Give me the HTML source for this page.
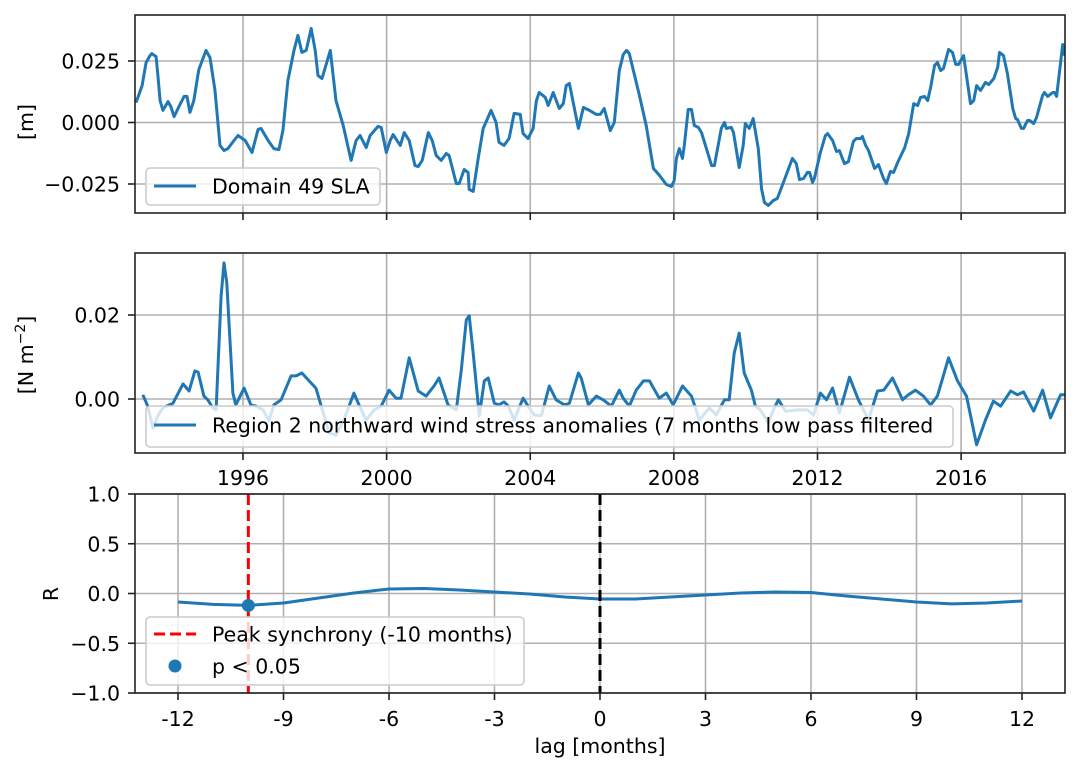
<!DOCTYPE html>
<html><head><meta charset="utf-8"><style>
html,body{margin:0;padding:0;background:#fff}
svg{display:block;font-family:"DejaVu Sans","Liberation Sans",sans-serif}
</style></head><body>
<svg id="chart" width="1080" height="772" viewBox="0 0 1080 772" xmlns="http://www.w3.org/2000/svg"></svg>
<script>
// ---- Panel 1: Domain 49 SLA (values in 1e-3 m)
const slaDates=[1993.02,1993.19,1993.30,1993.41,1993.46,1993.58,1993.63,1993.69,1993.77,1993.91,1993.99,1994.08,1994.19,1994.36,1994.44,1994.52,1994.63,1994.77,1994.97,1995.08,1995.22,1995.36,1995.47,1995.58,1995.75,1995.86,1996.06,1996.25,1996.42,1996.50,1996.70,1996.86,1997.00,1997.11,1997.25,1997.42,1997.53,1997.64,1997.76,1997.90,1998.01,1998.09,1998.20,1998.43,1998.59,1998.79,1999.01,1999.15,1999.26,1999.43,1999.54,1999.76,1999.85,1999.99,2000.10,2000.18,2000.38,2000.49,2000.63,2000.79,2000.88,2000.99,2001.16,2001.27,2001.38,2001.52,2001.66,2001.74,2001.94,2002.02,2002.16,2002.27,2002.30,2002.41,2002.55,2002.69,2002.91,2003.05,2003.13,2003.27,2003.41,2003.55,2003.72,2003.80,2003.94,2004.08,2004.17,2004.25,2004.42,2004.50,2004.64,2004.81,2004.92,2005.00,2005.09,2005.34,2005.48,2005.65,2005.84,2005.95,2006.06,2006.23,2006.34,2006.48,2006.59,2006.68,2006.76,2007.04,2007.23,2007.43,2007.60,2007.79,2007.93,2008.01,2008.07,2008.15,2008.24,2008.29,2008.40,2008.49,2008.57,2008.68,2008.77,2009.05,2009.13,2009.32,2009.41,2009.46,2009.60,2009.66,2009.82,2009.93,2009.99,2010.10,2010.21,2010.35,2010.44,2010.52,2010.63,2010.77,2010.88,2011.05,2011.30,2011.41,2011.50,2011.61,2011.72,2011.78,2011.86,2011.91,2012.08,2012.22,2012.28,2012.42,2012.53,2012.61,2012.75,2012.86,2013.00,2013.08,2013.20,2013.25,2013.34,2013.42,2013.59,2013.70,2013.84,2013.92,2014.03,2014.12,2014.23,2014.43,2014.54,2014.68,2014.79,2014.87,2014.98,2015.07,2015.15,2015.26,2015.34,2015.43,2015.51,2015.65,2015.76,2015.85,2015.93,2016.07,2016.26,2016.35,2016.43,2016.54,2016.68,2016.77,2016.91,2017.02,2017.07,2017.18,2017.29,2017.44,2017.52,2017.57,2017.68,2017.74,2017.85,2017.91,2018.02,2018.10,2018.27,2018.32,2018.41,2018.55,2018.60,2018.66,2018.83,2018.88];
const slaValues=[8.1,15.0,24.4,27.2,28.0,26.8,19.1,8.9,4.9,8.5,6.5,2.4,5.7,10.6,10.6,4.1,8.9,21.5,29.3,26.4,13.0,-9.3,-11.4,-10.6,-7.3,-5.3,-7.3,-12.2,-2.8,-2.4,-7.3,-10.6,-11.0,-3.3,17.1,29.3,35.4,28.5,29.3,38.2,29.3,19.1,17.9,29.3,8.9,-1.2,-15.4,-7.3,-5.3,-10.2,-5.3,-1.6,-2.0,-12.2,-7.3,-4.9,-9.3,-4.1,-7.3,-17.5,-17.9,-15.4,-4.1,-7.3,-13.4,-15.4,-12.6,-13.4,-24.8,-24.8,-19.1,-20.3,-27.2,-28.0,-14.6,-2.4,4.9,0,-8.1,-9.3,-6.5,3.7,3.3,-4.5,-6.5,-2.4,8.9,12.2,10.2,6.9,12.2,5.7,7.7,15.0,15.9,-2.4,6.1,4.9,3.3,3.3,5.7,-3.3,0,21.1,27.6,29.3,28.0,11.0,-1.2,-18.7,-21.5,-25.2,-26.0,-23.6,-14.6,-10.6,-14.6,-9.3,5.3,5.3,-1.2,-2.0,-4.1,-17.5,-17.5,-2.4,0,-2.4,-2.0,-4.1,-18.3,-9.3,-0.4,-2.4,1.6,-10.6,-26.8,-32.5,-33.7,-31.7,-30.9,-24.4,-14.6,-16.7,-23.2,-22.8,-20.3,-20.3,-24.4,-22.8,-12.2,-5.3,-4.5,-7.3,-11.8,-11.4,-16.7,-15.9,-7.7,-6.5,-6.5,-5.7,-9.3,-11.4,-18.7,-17.1,-22.8,-24.8,-19.9,-20.3,-16.3,-10.2,-4.5,7.7,6.9,10.2,10.6,8.9,14.2,23.2,24.4,21.1,22.0,29.7,28.5,23.6,23.6,27.2,7.7,8.9,15.0,13.0,16.3,15.4,17.9,22.4,28.5,27.2,19.9,5.7,1.6,1.2,-2.4,-2.4,0.8,0.8,-0.4,2.0,11.0,12.2,10.6,12.2,12.2,10.6,31.7,27.2];
const slaTicks=[-0.025,0,0.025];
const slaTickLabels=["\u22120.025","0.000","0.025"];
// ---- Panel 2: wind stress anomalies (values in 1e-3 N m^-2)
const windDates=[1993.21,1993.35,1993.49,1993.63,1993.77,1994.05,1994.33,1994.50,1994.66,1994.75,1994.91,1995.02,1995.16,1995.25,1995.39,1995.47,1995.55,1995.72,1995.80,1996.03,1996.22,1996.36,1996.56,1996.72,1996.86,1997.06,1997.34,1997.48,1997.64,1997.84,1998.03,1998.17,1998.40,1998.59,1998.81,1999.09,1999.23,1999.43,1999.65,1999.85,2000.07,2000.26,2000.40,2000.63,2000.88,2001.10,2001.32,2001.46,2001.71,2001.85,2001.94,2002.08,2002.22,2002.30,2002.41,2002.58,2002.72,2002.83,2003.00,2003.13,2003.27,2003.39,2003.55,2003.80,2003.94,2004.11,2004.31,2004.53,2004.72,2004.95,2005.09,2005.34,2005.42,2005.62,2005.84,2006.03,2006.26,2006.48,2006.59,2006.76,2006.95,2007.15,2007.32,2007.59,2007.79,2007.98,2008.24,2008.49,2008.71,2008.99,2009.18,2009.41,2009.54,2009.68,2009.82,2009.96,2010.16,2010.27,2010.41,2010.63,2010.77,2010.91,2011.11,2011.44,2011.72,2011.89,2012.08,2012.25,2012.42,2012.61,2012.89,2013.14,2013.42,2013.67,2013.84,2014.09,2014.37,2014.53,2014.73,2014.95,2015.15,2015.34,2015.65,2015.90,2016.15,2016.43,2016.68,2016.90,2017.10,2017.38,2017.57,2017.74,2018.02,2018.27,2018.49,2018.63,2018.77,2018.91];
const windValues=[1.0,-1.7,-6.9,-4.0,-2.1,-1.0,3.6,1.9,6.7,6.4,0.7,-0.2,-2.1,-2.6,24.5,32.4,27.6,1.4,-1.4,2.6,-1.4,-1.7,-2.6,-5.2,-1.4,-0.2,5.5,5.5,6.2,4.3,2.6,-1.4,-8.1,-8.6,-5.0,1.4,-1.4,-5.0,-2.6,-1.7,2.1,0.2,0.2,9.8,1.9,0.7,3.1,5.0,-1.4,-2.1,-2.6,6.9,18.8,19.8,10.9,-4.0,4.3,5.0,-1.0,-1.4,-0.7,-1.7,-5.0,0.2,-1.7,-3.8,-4.0,3.1,-0.2,-1.4,-1.0,6.2,5.0,-1.4,0.7,-0.2,-1.7,2.1,0.2,-1.7,2.1,4.3,4.3,0.2,1.4,-1.4,3.1,0.7,-5.0,-2.1,-3.8,-0.2,-0.2,10.9,15.7,6.2,2.1,-1.7,-2.6,-5.7,-2.6,-0.2,-2.9,-2.6,-2.6,-3.8,1.4,-0.2,2.6,-3.3,5.2,-0.2,-5.0,1.9,2.1,5.0,-0.2,1.0,2.1,0.7,-1.4,0.7,9.8,4.3,0.7,-10.9,-5.0,-0.5,-1.7,1.9,1.0,1.7,-2.9,2.1,-4.5,-1.7,1.0,1.0];
const windTicks=[0,0.02];
const windTickLabels=["0.00","0.02"];
const yearTicks=[1996,2000,2004,2008,2012,2016];
// ---- Panel 3: lag correlation
const lags=[-12,-11,-10,-9,-8,-7,-6,-5,-4,-3,-2,-1,0,1,2,3,4,5,6,7,8,9,10,11,12];
const rValues=[-0.085,-0.11,-0.12,-0.095,-0.045,0.005,0.045,0.05,0.035,0.015,-0.005,-0.035,-0.055,-0.055,-0.035,-0.015,0.005,0.015,0.01,-0.025,-0.055,-0.085,-0.105,-0.095,-0.075];
const peakLag=[-10];
const sigLags=[-10];
const sigR=[-0.12];
const lagTicks=[-12,-9,-6,-3,0,3,6,9,12];
const rTicks=[-1,-0.5,0,0.5,1];
const rTickLabels=["\u22121.0","\u22120.5","0.0","0.5","1.0"];

const NS="http://www.w3.org/2000/svg";
const svg=document.getElementById('chart');
function mk(tag,attrs,parent,text){const e=document.createElementNS(NS,tag);for(const k in attrs)e.setAttribute(k,attrs[k]);if(text!==undefined)e.textContent=text;(parent||svg).appendChild(e);return e;}
const L=135,R=1065,FS=20.5,LW=3,DASH='11,5';
const xYear=y=>L+(y-1993.02)*(243-136)/(1996-1993.02)+1;
const xLag=l=>178+(l+12)*(1022-178)/24;
const P1={top:15,bot:213}, P2={top:253,bot:453}, P3={top:494,bot:693};
const y1=v=>122.5-v*61.5/0.025;
const y2=v=>399-v*84/0.02;
const y3=v=>593.5-v*99.5;
const BLUE="#1f77b4",GRID="#b0b0b0";

function panel(P,name){
  const g=mk('g',{});
  
  
  return g;
}
function gridV(g,x,P){const l=mk('line',{x1:x,x2:x,y1:P.top,y2:P.bot,stroke:GRID,'stroke-width':1.6},g);}
function gridH(g,y){const l=mk('line',{x1:L,x2:R,y1:y,y2:y,stroke:GRID,'stroke-width':1.6},g);}
function frame(g,P){const r=mk('rect',{x:L,y:P.top,width:R-L,height:P.bot-P.top,fill:'none',stroke:'#222','stroke-width':1.6},g);}
function ytick(g,y,label){mk('line',{x1:L-7,x2:L,y1:y,y2:y,stroke:'#222','stroke-width':1.6},g);const t=mk('text',{x:L-15,y:y+7.5,'text-anchor':'end','font-size':FS,fill:'#000'},g,label);}
function xtick(g,x,P,label,ly){mk('line',{x1:x,x2:x,y1:P.bot,y2:P.bot+7,stroke:'#222','stroke-width':1.6},g);if(label!==null){const t=mk('text',{x:x,y:ly,'text-anchor':'middle','font-size':FS,fill:'#000'},g,label);}}
function line(g,xs,ys,fx,fy,name,extra){let d='';xs.forEach((x,i)=>{d+=(i?'L':'M')+fx(x).toFixed(1)+','+fy(ys[i]).toFixed(1);});const p=mk('path',Object.assign({d:d,fill:'none',stroke:BLUE,'stroke-width':LW,'stroke-linejoin':'round'},extra||{}),g);return p;}
function legendBox(g,x,y,w,h){const r=mk('rect',{x:x,y:y,width:w,height:h,rx:4,fill:'#fff','fill-opacity':0.8,stroke:'#ccc','stroke-width':1.6},g);}
function ylabel(g,x,y,txt,name){const t=mk('text',{x:x,y:y,'text-anchor':'middle','font-size':FS,fill:'#000',transform:`rotate(-90 ${x} ${y})`},g,txt);return t;}

// Panel 1
const g1=panel(P1,'sla-panel');
yearTicks.forEach(yr=>gridV(g1,xYear(yr),P1));
slaTicks.forEach(v=>gridH(g1,y1(v)));
{const cp=mk('clipPath',{id:'c1'},g1);mk('rect',{x:L,y:P1.top,width:R-L,height:P1.bot-P1.top},cp);}
line(g1,slaDates,slaValues.map(v=>v/1000),xYear,y1,'sla-line',{'clip-path':'url(#c1)'});
frame(g1,P1);
slaTicks.forEach((v,i)=>ytick(g1,y1(v),slaTickLabels[i]));
yearTicks.forEach(yr=>xtick(g1,xYear(yr),P1,null));
ylabel(g1,33,122,'[m]','sla-y-axis-title');
legendBox(g1,146,168,234,37);
mk('line',{x1:154,x2:196,y1:186,y2:186,stroke:BLUE,'stroke-width':LW},g1);
{const t=mk('text',{x:212,y:193.5,'font-size':FS,fill:'#000'},g1,'Domain 49 SLA');}

// Panel 2
const g2=panel(P2,'wind-panel');
yearTicks.forEach(yr=>gridV(g2,xYear(yr),P2));
windTicks.forEach(v=>gridH(g2,y2(v)));
line(g2,windDates,windValues.map(v=>v/1000),xYear,y2,'wind-stress-line');
frame(g2,P2);
windTicks.forEach((v,i)=>ytick(g2,y2(v),windTickLabels[i]));
yearTicks.forEach(yr=>xtick(g2,xYear(yr),P2,String(yr),485));
{const t=ylabel(g2,33,355,'','wind-y-axis-title');t.innerHTML='[N m<tspan dy="-8" font-size="14">\u22122</tspan><tspan dy="8">]</tspan>';}
legendBox(g2,146,406,807,41);
mk('line',{x1:154,x2:196,y1:425,y2:425,stroke:BLUE,'stroke-width':LW},g2);
{const t=mk('text',{x:212,y:432.5,'font-size':FS,fill:'#000'},g2,'Region 2 northward wind stress anomalies (7 months low pass filtered');}

// Panel 3
const g3=panel(P3,'lag-correlation-panel');
lagTicks.forEach(l=>gridV(g3,xLag(l),P3));
rTicks.forEach(v=>gridH(g3,y3(v)));
line(g3,lags,rValues,xLag,y3,'correlation-line');
peakLag.forEach(l=>{const p=mk('line',{x1:xLag(l),x2:xLag(l),y1:P3.top,y2:P3.bot,stroke:'#ff0000','stroke-width':LW,'stroke-dasharray':DASH},g3);});
{const p=mk('line',{x1:xLag(0),x2:xLag(0),y1:P3.top,y2:P3.bot,stroke:'#000','stroke-width':LW,'stroke-dasharray':DASH},g3);}
sigLags.forEach((l,i)=>{const c=mk('circle',{cx:xLag(l),cy:y3(sigR[i]),r:6.5,fill:BLUE},g3);});
frame(g3,P3);
rTicks.forEach((v,i)=>ytick(g3,y3(v),rTickLabels[i]));
lagTicks.forEach(l=>xtick(g3,xLag(l),P3,String(l),726));
ylabel(g3,58,594,'R','r-y-axis-title');
{const t=mk('text',{x:600,y:753,'text-anchor':'middle','font-size':FS,fill:'#000'},g3,'lag [months]');}
legendBox(g3,146,617,378,68);
mk('line',{x1:154,x2:196,y1:634,y2:634,stroke:'#ff0000','stroke-width':LW,'stroke-dasharray':DASH},g3);
{const t=mk('text',{x:212,y:641.5,'font-size':FS,fill:'#000'},g3,'Peak synchrony (-10 months)');}
mk('circle',{cx:175,cy:666,r:6.5,fill:BLUE},g3);
{const t=mk('text',{x:212,y:673.5,'font-size':FS,fill:'#000'},g3,'p < 0.05');}
</script>
</body></html>
